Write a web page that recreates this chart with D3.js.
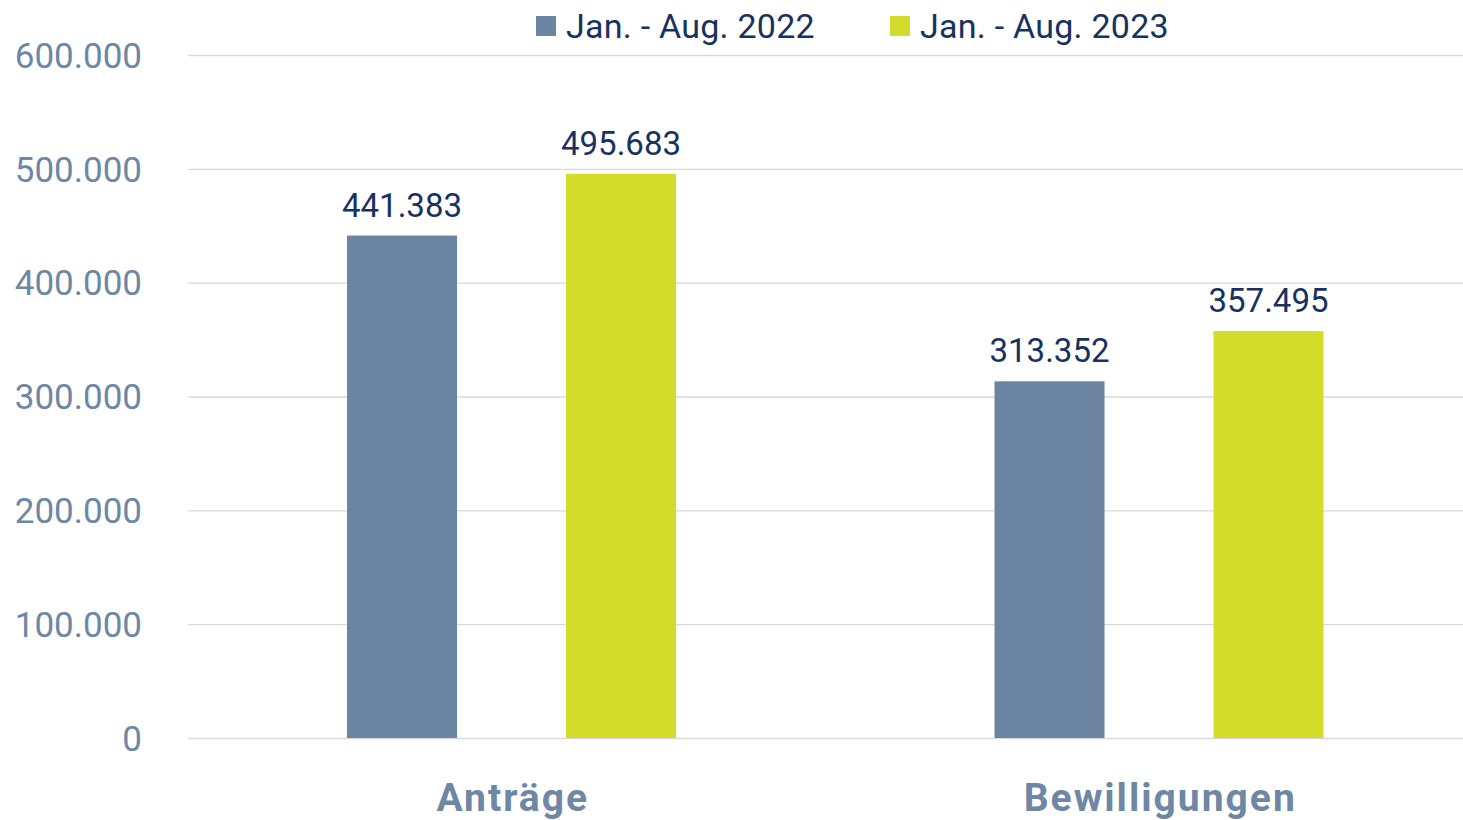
<!DOCTYPE html>
<html><head><meta charset="utf-8">
<script src="https://cdn.jsdelivr.net/npm/d3@7"></script>
<style>body{margin:0;background:#fff;}svg{display:block;font-family:Roboto, "DejaVu Sans", sans-serif;}</style>
</head><body><svg id="c" width="1463" height="820"></svg>
<script>
const categories = ["Anträge", "Bewilligungen"];
const seriesNames = ["Jan. - Aug. 2022", "Jan. - Aug. 2023"];
const values2022 = [441383, 313352];
const values2023 = [495683, 357495];
const yTicks = [0, 100000, 200000, 300000, 400000, 500000, 600000];
const colors = ["#6b84a1", "#d4dc2b"];

(function () {
const series = [values2022, values2023];
const svg = d3.select("#c");
const mLeft = 188, mRight = 1483, mTop = 55, mBottom = 738;
const y = d3.scaleLinear().domain([0, 600000]).range([mBottom, mTop]);
const x0 = d3.scaleBand().domain(categories).range([mLeft, mRight]).padding(0);
const bw = x0.bandwidth();
const x1 = d3.scaleBand().domain(seriesNames).range([bw*0.2456, bw*0.7537]).paddingInner(0.4977).paddingOuter(0);
const fmt = v => d3.format(",")(v).replace(/,/g, ".");

const yAxis = d3.axisLeft(y).tickValues(yTicks).tickSize(-(1463-mLeft)).tickFormat(fmt).tickPadding(46);
const g = svg.append("g").attr("transform", `translate(${mLeft},0)`).call(yAxis);
g.select(".domain").remove();
g.selectAll(".tick line").attr("stroke", "#d9d9d9").attr("stroke-width", 1.3);
g.selectAll(".tick text").attr("fill", "#6d87a5").attr("font-size", 35).attr("font-family", "Roboto").attr("dy", "0.35em");

const grp = svg.append("g").selectAll("g").data(categories).join("g")
  .attr("transform", d => `translate(${x0(d)},0)`);
seriesNames.forEach((s, si) => {
  grp.append("rect")
    .attr("x", x1(s)).attr("width", x1.bandwidth())
    .attr("y", (d, i) => y(series[si][i]))
    .attr("height", (d, i) => mBottom - y(series[si][i]))
    .attr("fill", colors[si]);
  grp.append("text")
    .attr("x", x1(s) + x1.bandwidth()/2)
    .attr("y", (d, i) => y(series[si][i]) - 19)
    .attr("text-anchor", "middle").attr("fill", "#17325e").attr("font-size", 33)
    .text((d, i) => fmt(series[si][i]));
});

svg.append("g").selectAll("text").data(categories).join("text")
  .attr("x", d => x0(d) + bw/2 + 1).attr("y", 811)
  .attr("text-anchor", "middle").attr("fill", "#6d87a5").attr("font-size", 39).attr("font-weight", "bold")
  .attr("letter-spacing", 2)
  .text(d => d);

const legX = [536, 890];
const lg = svg.append("g").selectAll("g").data(seriesNames).join("g")
  .attr("transform", (d, i) => `translate(${legX[i]},0)`);
lg.append("rect").attr("x", 0).attr("y", 16).attr("width", 20).attr("height", 20).attr("fill", (d, i) => colors[i]);
lg.append("text").attr("x", 30).attr("y", 38).attr("fill", "#17325e").attr("font-size", 34).attr("letter-spacing", 0.25).text(d => d);
})();
</script></body></html>
